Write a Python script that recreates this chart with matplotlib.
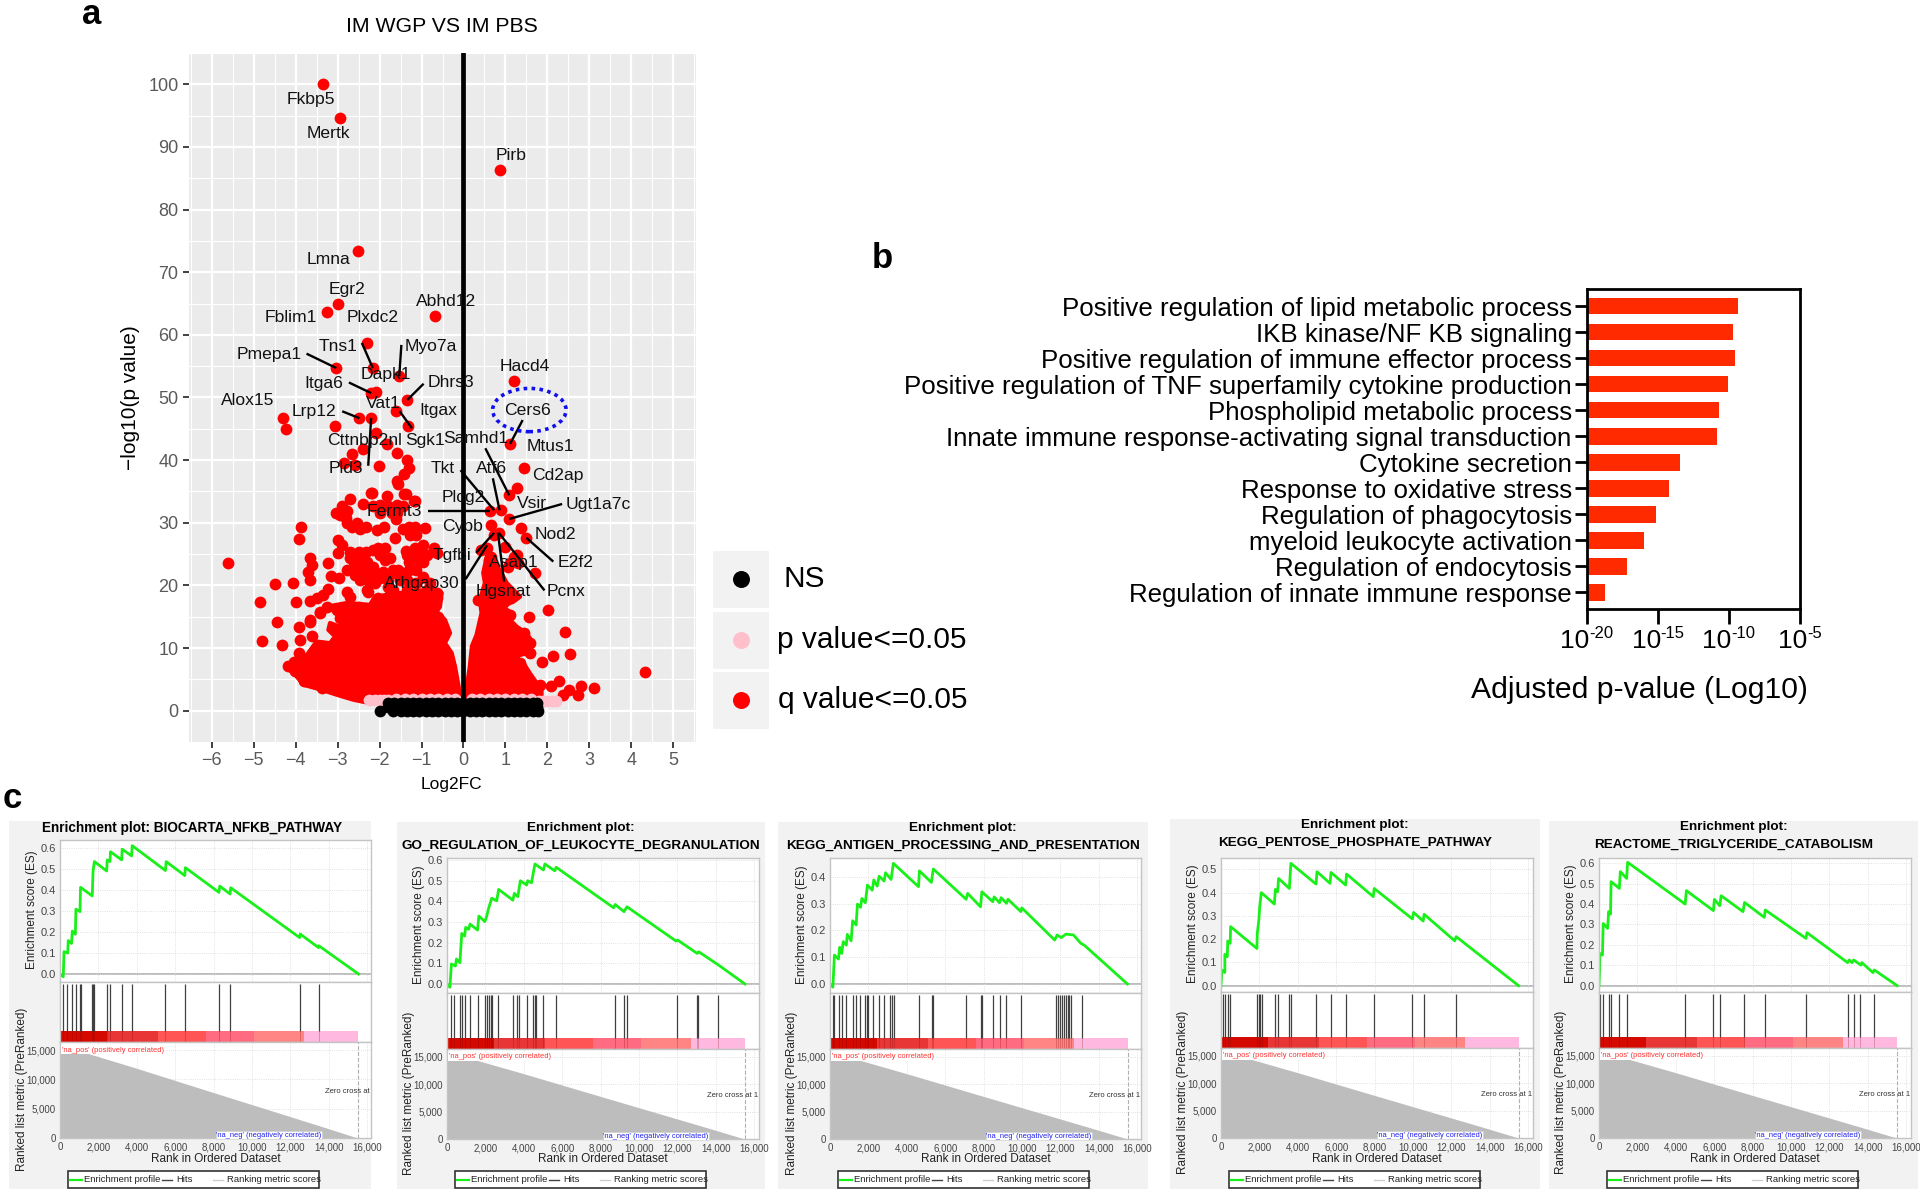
import matplotlib
matplotlib.use('Agg')
import matplotlib.pyplot as plt
from matplotlib.patches import Ellipse, Rectangle

plt.rcParams['font.family'] = ['Liberation Sans', 'DejaVu Sans']

W, H = 1920, 1192

# panel a, volcano: points
red_x = [-3.35, -2.95, 0.88, -2.51, -2.99, -3.26, -0.67, -2.31, -3.03, -2.16, -1.53, 1.21, -2.2, -2.09, -1.34,
         -5.61, -4.29, -4.23, -3.05, -2.48, -2.2, -2.09, -2.39, -2.66, -2.84, -2.59, -2.02, -1.82, -1.59, -1.61,
         -1.32, -1.35, -1.3, -1.41, -1.59, -1.57, -2.18, -1.38, -1.16,
         -2.2, -1.83, -1.41, -1.18, -2.7, -2.9, -3.04, -2.8, -2.77, -2.53, -2.46, -2.32, -2.39, -2.15, -2.0, -1.79,
         -1.59, -1.43, -1.6, -1.9, -2.07, -1.43, -1.15, -0.92, -1.64, -1.31, -3.87, -3.91, -2.98, -2.9, -3.0, -2.7,
         -2.5, -2.32, -2.03, -1.99, -1.75, -1.38, -1.15, -0.96, -0.7, -0.64, -3.65, -3.23, -3.62, -3.7, -3.65, -2.78,
         -3.15, -2.96, -4.49, -4.07, -2.58, -2.62, -2.3, -2.3, -2.11, -1.91, -1.67, -1.47, -1.2, -1.31, -1.04, -1.31,
         -1.12, -0.96, -2.46, -2.3, -2.11, -3.22, -2.78, -2.7, -2.27, -2.03, -1.79, -3.99, -3.65, -3.5, -3.34, -4.85,
         -3.26, -3.42, -3.02, -2.78, -2.5, -2.3, -2.07, -1.67, -1.43, -1.2, -0.88, -0.64, -0.64, -0.8, -1.12, -1.35,
         -1.27, -0.96, -0.72, -0.6, -3.65, -4.45, -1.59, -1.79, -1.35, -1.12, -1.35, -0.8,
         -3.91, -3.65, -3.42, -4.8, -4.33, -3.89, -3.62, -3.93, -4.17, -4.05, -4.01, -3.81, -3.38, -2.94,
         1.11, 1.45, 1.28, 1.09, 0.89, 0.64, 1.09, 0.66, 1.36, 0.84, 1.5, 0.73, 1.0, 0.41,
         1.7, 2.02, 1.56, 2.42, 2.14, 2.54, 1.88, 2.28, 2.08, 2.81, 3.11, 2.51, 2.38, 2.73, 1.43, 1.58, 1.58, 1.35,
         1.82, 0.35, 1.11, 1.27, 1.11, 0.95, 4.32, 0.55, 0.65, 0.6, 1.2, 1.3, 1.05, 0.7, 0.85]
red_y = [100, 94.6, 86.4, 73.4, 65, 63.7, 63, 58.7, 54.7, 54.7, 53.4, 52.7, 50.7, 50.9, 49.6,
         23.6, 46.8, 45, 45.5, 46.7, 46.7, 44.3, 41.8, 40.9, 39.5, 39.3, 39.1, 42.6, 41.1, 47.8,
         45.4, 40, 38.7, 37.8, 36.7, 36.2, 34.8, 34.6, 33.5,
         34.7, 34.2, 34.6, 33.55, 33.8, 32.7, 31.5, 30.7, 29.9, 29.9, 29, 29.3, 33, 32.6, 32.9, 32.6,
         32.9, 32.6, 30.6, 29.4, 28.8, 29, 29.4, 29.2, 27.6, 29.3, 29.3, 27.4, 27.3, 26.5, 25.25, 25.4,
         25.4, 25.4, 26, 24.9, 24.3, 25.5, 26, 26.5, 26, 25.1, 24.35, 23.65, 23.3, 22.2, 20.9, 22.5,
         21.5, 21.15, 20.25, 20.35, 24.35, 23.8, 23.8, 22.5, 21.95, 22.2, 22.5, 21.95, 25.15, 23.8, 23.8, 22.5,
         22.5, 23.8, 20.9, 19.3, 20.35, 19.4, 19, 18.2, 19, 18, 18.2, 17.4, 17.5, 18, 18.5, 17.4,
         16.6, 15.8, 16.1, 16.6, 16.6, 16.1, 15.8, 19.3, 18.2, 18.5, 19.3, 18.8, 18, 17.4, 17.2, 16.9,
         15.8, 16.1, 15.6, 15, 14.5, 14.2, 21.95, 20.9, 20.9, 20.35, 19.3, 19.3,
         13.3, 14.2, 15.6, 11.2, 10.5, 11.3, 11.95, 9.2, 7.06, 7.85, 6.26, 4.66, 3.6, 14.8,
         42.6, 38.7, 35.5, 34.4, 32, 31.8, 30.6, 29.7, 29.1, 28.4, 27.6, 28.1, 26.1, 25.7,
         22, 16.1, 15, 12.5, 8.7, 9.1, 7.8, 4.8, 4, 3.9, 3.55, 3.3, 2.5, 2.5, 12.4, 10.8, 9.2, 7.6,
         4.1, 17.7, 15.3, 24.9, 23.6, 17.2, 6.2, 26, 24.5, 24, 24.5, 23.5, 23, 22.5, 21]

# second pass over the crowded part of the left arm
red2_x = [-2.7, -2.46, -1.35, -1.04, -0.88, -2.15, -1.99, -1.79, -1.51, -1.71, -1.55, -2.54, -2.58, -2.39, -2.27, -0.96,
          -0.8, -1.71, -2.0, -2.78, -2.66, -2.94, -1.59, -1.27, -1.12, -1.12, -1.31, -2.15, -1.87, -1.87, -2.46]
red2_y = [24.35, 24.6, 24.9, 25.15, 24.9, 23, 21.2, 19.8, 20.9, 22, 22.5, 22.5, 21.7, 21.7, 20.9, 21.4,
          20.35, 31.5, 31.5, 31.8, 29.4, 31.3, 31.5, 28.1, 28.1, 24.9, 25.15, 25.7, 26, 24.1, 23.8]

# outline of the solid red masses
mass_left_x = [-0.08, -2.23, -2.62, -3.02, -3.38, -3.81, -4.01, -4.25, -3.97, -3.73, -3.5, -3.18, -3.06, -3.22, -3.18,
               -2.94, -2.86, -3.26, -2.78, -2.23, -2.11, -1.51, -0.88, -0.52, -0.56, -0.64, -0.44, -0.32, -0.44, -0.28, -0.2]
mass_left_y = [2.54, 1.2, 1.74, 2.54, 3.33, 4.13, 5.73, 7.06, 8.39, 8.92, 11.05, 10.78, 11.85, 12.9, 14,
               13.4, 15, 16.6, 17.2, 16.9, 18.2, 18.8, 19.3, 18.8, 16.6, 15.8, 14.5, 12.4, 10.8, 9.2, 7]
mass_right_x = [0, 1.86, 1.86, 1.58, 1.43, 1.23, 1.54, 1.66, 1.5, 1.27, 1.11, 1.11, 0.91, 1.19, 1.35, 1.03, 0.95, 0.59,
                0.47, 0.51, 0.39, 0.43, 0.31, 0.2, 0.15, 0.08]
mass_right_y = [2.27, 2.27, 3.3, 6, 7.6, 8.7, 9.2, 10.8, 12.4, 13.4, 14.5, 15.8, 16.6, 17.4, 18.2, 20.4, 21.4, 25.7,
                22, 20.4, 17.7, 15.6, 12.1, 10.3, 7, 3.9]

pink_x = [-2.24, -2.1, -2.0, -1.9, -1.8, -1.6, -1.4, -1.2, -1.0, -0.8, -0.6, -0.4, -0.2, 0.2, 0.4, 0.6, 0.8, 1.0, 1.2,
          1.4, 1.6, 1.8, 1.9, 2.0, 2.1, 2.2]
pink_y = [1.7, 1.7, 1.7, 1.7, 1.7, 1.9, 1.9, 1.9, 1.9, 1.9, 1.9, 1.9, 1.9, 1.9, 1.9, 1.9, 1.9, 1.9, 1.9,
          1.9, 1.9, 1.6, 1.6, 1.6, 1.6, 1.5]

black_top_x = [-1.79, -1.65, -1.5, -1.35, -1.2, -1.05, -0.9, -0.75, -0.6, -0.45, -0.3, -0.15, 0.0, 0.15, 0.3, 0.45,
               0.6, 0.75, 0.9, 1.05, 1.2, 1.35, 1.5, 1.65, 1.76]
black_top_y = [1.3] * len(black_top_x)
black_mid_y = [0.65] * len(black_top_x)
black_low_x = [-1.99, -1.67, -1.5, -1.35, -1.2, -1.05, -0.9, -0.75, -0.6, -0.45, -0.3, -0.15, 0.0, 0.15, 0.3, 0.45,
               0.6, 0.75, 0.9, 1.05, 1.2, 1.35, 1.5, 1.65, 1.78]
black_low_y = [0] * len(black_low_x)

gene_names = ['Fkbp5', 'Mertk', 'Pirb', 'Lmna', 'Egr2', 'Fblim1', 'Plxdc2', 'Abhd12', 'Tns1', 'Myo7a', 'Pmepa1',
              'Hacd4', 'Dapk1', 'Itga6', 'Dhrs3', 'Alox15', 'Vat1', 'Lrp12', 'Itgax', 'Cers6', 'Cttnbp2nl', 'Sgk1',
              'Samhd1', 'Mtus1', 'Pld3', 'Tkt', 'Atf6', 'Cd2ap', 'Plcg2', 'Vsir', 'Ugt1a7c', 'Fermt3', 'Cybb', 'Nod2',
              'E2f2', 'Tgfbi', 'Asap1', 'Arhgap30', 'Hgsnat', 'Pcnx']
gene_x = [-3.63, -3.22, 1.14, -3.21, -2.78, -4.11, -2.16, -0.41, -3.0, -0.79, -4.64, 1.45, -1.86, -3.32, -0.31, -5.14,
          -1.91, -3.55, -0.59, 1.52, -2.36, -0.92, 0.29, 2.06, -2.8, -0.5, 0.68, 2.25, 0.0, 1.64, 3.2, -1.64, -0.02,
          2.18, 2.68, -0.27, 1.21, -1.0, 0.95, 2.45]
gene_y = [97.6, 92.2, 88.7, 72, 67.3, 62.7, 62.8, 65.3, 58.2, 58.1, 56.8, 54.9, 53.6, 52.2, 52.4, 49.6, 49, 47.7, 47.9,
          48, 43.2, 43.1, 43.4, 42.2, 38.7, 38.6, 38.6, 37.5, 34, 33, 32.9, 31.8, 29.4, 28.2, 23.7, 24.8, 23.7, 20.3,
          19, 19]

# repel lines, from label to point
seg_x0 = [-3.74, -2.42, -1.48, -2.73, -0.95, -2.89, -1.52, -2.27, 1.41, 0.52, -0.07, 0.7, -0.84, 2.35, 2.14, 1.93, 0.97, 0.3, 0.05]
seg_y0 = [57, 58.7, 58.4, 52.4, 52.2, 47.8, 47.8, 39.1, 46.4, 41.9, 38.4, 37.1, 31.8, 33, 23.8, 19.2, 20.6, 25.2, 21]
seg_x1 = [-3.03, -2.16, -1.53, -2.2, -1.34, -2.48, -1.23, -2.2, 1.11, 1.09, 0.73, 0.86, 0.64, 1.09, 1.5, 0.84, 0.82, 0.73, 0.56]
seg_y1 = [54.7, 54.7, 53.4, 50.7, 49.6, 46.7, 45.1, 46.7, 42.6, 34.4, 32, 32, 31.8, 30.6, 27.6, 28.4, 28.4, 28.4, 26.4]

# panel b
go_terms = ['Positive regulation of lipid metabolic process', 'IKB kinase/NF KB signaling',
            'Positive regulation of immune effector process', 'Positive regulation of TNF superfamily cytokine production',
            'Phospholipid metabolic process', 'Innate immune response-activating signal transduction',
            'Cytokine secretion', 'Response to oxidative stress', 'Regulation of phagocytosis',
            'myeloid leukocyte activation', 'Regulation of endocytosis', 'Regulation of innate immune response']
go_log10p = [-9.4, -9.7, -9.57, -10.06, -10.73, -10.82, -13.46, -14.2, -15.16, -15.97, -17.18, -18.7]
go_ticks = [-20, -15, -10, -5]
go_tick_exp = ['-20', '-15', '-10', '-5']

# panel c, rank in thousands and enrichment score
es1_rank = [0, .17, .21, .4, .43, .6, .64, .8, .83, 1.04, 1.07, 1.68, 1.72, 1.79, 2.43, 2.46, 2.6, 2.63, 3.21, 3.24,
            3.73, 3.76, 5.49, 5.53, 6.5, 6.53, 8.28, 8.32, 8.86, 8.89, 12.48, 12.51, 13.47, 13.48, 15.55]
es1_val = [0, -.013, .107, .1, .16, .146, .205, .19, .31, .298, .414, .373, .489, .537, .492, .545, .537, .584, .545, .596,
           .564, .613, .494, .537, .47, .508, .39, .42, .382, .412, .174, .191, .126, .135, 0]
hits1 = [.17, .38, .61, .81, 1.04, 1.09, 1.66, 1.73, 1.78, 2.43, 2.63, 3.22, 3.73, 5.49, 6.5, 8.28, 8.87, 12.48, 13.47]

es2_rank = [0, .15, .23, .44, .49, .67, .77, .92, .97, 1.13, 1.2, 1.59, 1.66, 1.97, 2.07, 2.15, 2.33, 2.59, 2.69, 3.43,
            3.51, 3.69, 3.82, 4.15, 4.2, 4.4, 4.58, 5.02, 5.1, 5.61, 5.69, 8.68, 8.76, 9.22, 9.37, 11.93, 12.01, 13.03,
            13.11, 14.14, 15.52]
es2_val = [0, -.016, .097, .087, .121, .103, .245, .232, .274, .265, .29, .261, .329, .302, .329, .361, .415, .403, .458, .406,
           .439, .423, .5, .479, .5, .49, .581, .552, .581, .548, .565, .369, .385, .35, .374, .208, .213, .148,
           .156, .092, 0]
hits2 = [.2, .38, .69, .77, .95, 1.18, 1.64, 2, 2.1, 2.2, 2.28, 2.36, 2.64, 3.43, 3.64, 3.76, 4.17, 4.48, 4.58, 4.64,
         5.02, 5.66, 8.73, 9.22, 9.35, 11.98, 13.01, 13.09, 14.14]

es3_rank = [0, .15, .23, .44, .51, .61, .69, .85, .9, 1.1, 1.18, 1.36, 1.43, 1.59, 1.66, 1.84, 1.95, 2.2, 2.28, 2.46, 2.56,
            2.82, 2.89, 3.18, 3.3, 4.61, 4.66, 5.28, 5.38, 7.09, 7.17, 7.84, 7.91, 8.48, 8.55, 8.83, 8.91, 9.19, 9.27,
            9.94, 9.99, 11.7, 11.83, 12.04, 12.29, 12.68, 13.06, 13.24, 15.49]
es3_val = [0, -.012, .108, .093, .137, .114, .158, .145, .185, .161, .236, .22, .298, .286, .319, .303, .369, .35, .388, .365, .402,
           .384, .415, .39, .45, .363, .422, .379, .429, .316, .338, .288, .344, .307, .325, .303, .322, .301, .316,
           .27, .284, .164, .183, .173, .186, .183, .152, .145, 0]
hits3 = [.15, .23, .46, .64, .85, 1.2, 1.36, 1.56, 1.82, 1.92, 1.97, 2.25, 2.56, 2.82, 3.15, 3.25, 3.33, 4.61, 5.33, 5.38,
         7.09, 7.84, 7.91, 8.48, 8.87, 9.19, 9.94, 11.75, 11.86, 11.96, 12.06, 12.17, 12.27, 12.37, 12.47, 12.57, 13.11]

es4_rank = [0, .05, .2, .2, .33, .35, .48, .5, 1.87, 1.89, 1.97, 2.02, 2.1, 2.78, 2.83, 2.95, 3, 3.56, 3.64, 4.95, 5, 5.68,
            5.73, 6.49, 6.54, 7.93, 7.98, 9.97, 10.03, 10.53, 10.58, 12.17, 12.25, 15.5]
es4_val = [0, .067, .057, .135, .125, .192, .182, .254, .16, .225, .282, .344, .4, .351, .414, .404, .461, .418, .526, .437, .49, .44,
           .487, .433, .48, .383, .418, .287, .315, .278, .307, .193, .211, 0]
hits4 = [.08, .2, .35, .48, 1.87, 1.97, 2.05, 2.12, 2.8, 2.98, 3.56, 3.64, 4.97, 5.71, 6.52, 7.95, 9.97, 10.56, 12.22]

es5_rank = [0, .03, .05, .18, .2, .22, .45, .5, .6, .63, 1.06, 1.11, 1.44, 1.49, 4.49, 4.55, 5.96, 6.01, 6.29, 6.36, 7.5, 7.58,
            8.61, 8.66, 10.78, 10.83, 12.95, 13.03, 13.18, 13.26, 13.64, 13.69, 14.27, 14.34, 15.53]
es5_val = [0, .077, .158, .15, .232, .305, .281, .363, .351, .51, .477, .559, .526, .605, .4, .466, .368, .423, .392, .441, .363, .408,
           .335, .371, .232, .26, .113, .126, .113, .126, .101, .113, .064, .077, 0]
hits5 = [.05, .2, .5, .6, 1.06, 1.44, 4.49, 5.96, 6.31, 7.53, 8.64, 10.78, 12.98, 13.26, 13.61, 14.32]

band_edges = [0, 2.45, 5.1, 7.6, 10.1, 12.73, 15.5]
band_colors = ['#d40a00', '#e83535', '#ff5555', '#ff6b80', '#ff8585', '#ffb8e0']
metric_rank = [0, 1.2, 4, 7.28, 10, 13.5, 15.5]
metric_val = [14700, 14700, 11900, 8500, 5700, 2100, 0]


def px_axes(fig, left, top, right, bottom, **kw):
    return fig.add_axes([left / W, 1 - bottom / H, (right - left) / W, (bottom - top) / H], **kw)


fig = plt.figure(figsize=(W / 100, H / 100), dpi=100, facecolor='white')

page = fig.add_axes([0, 0, 1, 1], zorder=-1)
page.set_xlim(0, W)
page.set_ylim(H, 0)
page.axis('off')

page.text(92, 14, 'a', fontsize=25, fontweight='bold', ha='center', va='center')
page.text(882, 258, 'b', fontsize=25, fontweight='bold', ha='center', va='center')
page.text(12, 798, 'c', fontsize=25, fontweight='bold', ha='center', va='center')

# --- a ---
ax = px_axes(fig, 189, 53, 696, 742, facecolor='#ebebeb')
ax.set_xlim(-6.54, 5.54)
ax.set_ylim(-4.9, 105)
ax.set_xticks(range(-6, 6))
ax.set_xticks([i + 0.5 for i in range(-7, 6)], minor=True)
ax.set_yticks(range(0, 101, 10))
ax.set_yticks(range(-5, 106, 10), minor=True)
ax.grid(which='major', color='white', lw=1.6)
ax.grid(which='minor', color='white', lw=0.8)
ax.set_axisbelow(True)
ax.tick_params(which='minor', length=0)
ax.tick_params(which='major', length=4, width=1.3, color='#333333', labelcolor='#5a5a5a', labelsize=13)
ax.set_xticklabels([str(i).replace('-', '\u2212') for i in range(-6, 6)])
for s in ax.spines.values():
    s.set_visible(False)

ax.fill(mass_left_x, mass_left_y, color='red', lw=3, joinstyle='round', zorder=2)
ax.fill(mass_right_x, mass_right_y, color='red', lw=3, joinstyle='round', zorder=2)
ax.scatter(red_x, red_y, s=72, color='red', lw=0, zorder=3)
ax.scatter(red2_x, red2_y, s=72, color='red', lw=0, zorder=3)
ax.scatter(pink_x, pink_y, s=72, color='#ffc0cb', lw=0, zorder=4)
ax.scatter(black_top_x, black_top_y, s=72, color='black', lw=0, zorder=5)
ax.scatter(black_top_x, black_mid_y, s=72, color='black', lw=0, zorder=5)
ax.scatter(black_low_x, black_low_y, s=72, color='black', lw=0, zorder=5)
ax.axvline(0, color='black', lw=3.4, zorder=6)

for a, b, c, d in zip(seg_x0, seg_y0, seg_x1, seg_y1):
    ax.plot([a, c], [b, d], color='black', lw=1.7, zorder=7, solid_capstyle='butt')
for name, x, y in zip(gene_names, gene_x, gene_y):
    ax.text(x, y, name, fontsize=12.6, ha='center', va='center', color='#111111', zorder=8)
ax.add_patch(Ellipse((1.57, 48), 1.75, 6.9, fill=False, edgecolor='#1010ee', lw=2.6, ls=(0, (1, 1.2)), zorder=8))

page.text(442, 27, 'IM WGP VS IM PBS', fontsize=15.3, ha='center', va='center')
page.text(451, 784, 'Log2FC', fontsize=12.5, ha='center', va='center')
page.text(130, 398, '\u2212log10(p value)', fontsize=15, rotation=90, ha='center', va='center')

# legend of a
legend_names = ['NS', 'p value<=0.05', 'q value<=0.05']
legend_colors = ['black', '#ffc0cb', 'red']
legend_text_x = [783, 777, 778]
for i, top in enumerate([551, 612, 672]):
    page.add_patch(Rectangle((713, top), 56, 57, color='#f2f2f2', lw=0))
    page.scatter([741], [top + 28], s=150, color=legend_colors[i], lw=0)
    page.text(legend_text_x[i], top + 28, legend_names[i], fontsize=21.5, ha='left', va='center')

# --- b ---
ax = px_axes(fig, 1587, 289, 1800, 609)
ax.barh(range(len(go_terms)), [v + 20 for v in go_log10p], left=-20, height=0.65, color='#ff2a00')
ax.set_xlim(-20, -5)
ax.set_ylim(11.65, -0.654)
ax.set_yticks(range(len(go_terms)))
ax.set_yticklabels(go_terms)
ax.set_xticks(go_ticks)
ax.set_xticklabels([])
ax.tick_params(axis='y', length=9, width=2, labelsize=18.6, pad=2)
ax.tick_params(axis='x', length=11, width=2)
for s in ax.spines.values():
    s.set_linewidth(2)
for t, e in zip(go_ticks, go_tick_exp):
    tx = 1587 + (t + 20) * 14.2
    ew = 24 if len(e) == 3 else 15
    page.text(tx - (29 + ew) / 2, 641, '10', fontsize=19, ha='left', va='center')
    page.text(tx - (29 + ew) / 2 + 29, 634, e, fontsize=12, ha='left', va='center')
page.text(1639, 690, 'Adjusted p-value (Log10)', fontsize=21.7, ha='center', va='center')

# --- c ---
panels = [
    dict(title=['Enrichment plot: BIOCARTA_NFKB_PATHWAY'], bg=(9, 821, 371, 1189), l=60, r=371, top=840, es=982,
         band=(1031, 1042), bot=1138, ylim=(-.038, .64), yt=[0, .1, .2, .3, .4, .5, .6],
         rank=es1_rank, val=es1_val, hits=hits1, zero='Zero cross at'),
    dict(title=['Enrichment plot:', 'GO_REGULATION_OF_LEUKOCYTE_DEGRANULATION'], bg=(397, 822, 765, 1189), l=447, r=759,
         top=858, es=993, band=(1038, 1049), bot=1139, ylim=(-.0435, .61), yt=[0, .1, .2, .3, .4, .5, .6],
         rank=es2_rank, val=es2_val, hits=hits2, zero='Zero cross at 1'),
    dict(title=['Enrichment plot:', 'KEGG_ANTIGEN_PROCESSING_AND_PRESENTATION'], bg=(778, 822, 1148, 1189), l=830, r=1141,
         top=858, es=993, band=(1038, 1049), bot=1139, ylim=(-.0336, .47), yt=[0, .1, .2, .3, .4],
         rank=es3_rank, val=es3_val, hits=hits3, zero='Zero cross at 1'),
    dict(title=['Enrichment plot:', 'KEGG_PENTOSE_PHOSPHATE_PATHWAY'], bg=(1170, 819, 1540, 1189), l=1221, r=1533,
         top=858, es=992, band=(1037, 1048), bot=1138, ylim=(-.027, .549), yt=[0, .1, .2, .3, .4, .5],
         rank=es4_rank, val=es4_val, hits=hits4, zero='Zero cross at 1'),
    dict(title=['Enrichment plot:', 'REACTOME_TRIGLYCERIDE_CATABOLISM'], bg=(1549, 821, 1918, 1189), l=1599, r=1911,
         top=858, es=992, band=(1037, 1048), bot=1138, ylim=(-.031, .626), yt=[0, .1, .2, .3, .4, .5, .6],
         rank=es5_rank, val=es5_val, hits=hits5, zero='Zero cross at 1'),
]

for p in panels:
    l, r, top, es_bot, bot = p['l'], p['r'], p['top'], p['es'], p['bot']
    b0, b1 = p['band']
    x0, y0, x1, y1 = p['bg']
    xmax = (r - l) / 19.2
    page.add_patch(Rectangle((x0, y0), x1 - x0, y1 - y0, color='#f2f2f2', lw=0))

    if len(p['title']) == 1:
        page.text((x0 + x1) / 2 + 2, y0 + 7, p['title'][0], fontsize=9.8, fontweight='bold', ha='center', va='center')
    else:
        page.text((x0 + x1) / 2, y0 + 6, p['title'][0], fontsize=9.7, fontweight='bold', ha='center', va='center')
        page.text((x0 + x1) / 2, y0 + 24, p['title'][1], fontsize=9.7, fontweight='bold', ha='center', va='center')

    # enrichment curve
    ax1 = px_axes(fig, l, top, r, es_bot)
    ax1.plot(p['rank'], p['val'], color='#19f019', lw=2)
    ax1.axhline(0, color='#b0b0b0', lw=1.2, zorder=1)
    ax1.set_xlim(0, xmax)
    ax1.set_ylim(*p['ylim'])
    ax1.set_yticks(p['yt'])
    ax1.set_yticklabels(['%.1f' % v for v in p['yt']])
    ax1.set_xticks(range(0, 17, 2))
    ax1.tick_params(axis='x', length=0, labelbottom=False)
    ax1.tick_params(axis='y', length=0, labelsize=8, labelcolor='#444444', pad=3)
    ax1.grid(color='#d8d8d8', lw=0.6, ls=':')

    # hits and ranked colour band
    ax2 = px_axes(fig, l, es_bot, r, b1)
    ax2.set_xlim(0, xmax)
    ax2.set_ylim(0, 1)
    ax2.set_xticks([])
    ax2.set_yticks([])
    band_h = (b1 - b0) / (b1 - es_bot)
    for e0, e1, c in zip(band_edges[:-1], band_edges[1:], band_colors):
        ax2.barh(band_h / 2, e1 - e0, left=e0, height=band_h, color=c, lw=0)
    ax2.vlines(p['hits'], band_h, 0.97, color='#404040', lw=0.9)
    ax2.vlines(p['hits'], 0, band_h, color='#800000', lw=0.5, alpha=0.35)

    # ranked list metric
    ax3 = px_axes(fig, l, b1, r, bot)
    ax3.fill_between(metric_rank, metric_val, color='#bdbdbd', lw=0)
    ax3.axvline(15.5, color='#b0b0b0', lw=0.8, ls='--')
    ax3.set_xlim(0, xmax)
    ax3.set_ylim(0, 16400)
    ax3.set_xticks(range(0, 17, 2))
    ax3.set_xticklabels(['{:,}'.format(v * 1000) for v in range(0, 17, 2)])
    ax3.set_yticks([0, 5000, 10000, 15000])
    ax3.set_yticklabels(['0', '5,000', '10,000', '15,000'])
    ax3.tick_params(length=0, labelsize=7, labelcolor='#444444', pad=3)
    ax3.grid(color='#d8d8d8', lw=0.6, ls=':')
    ax3.set_axisbelow(True)
    ax3.text(0.1, 15000, "'na_pos' (positively correlated)", fontsize=5.4, color='#ff3030', va='center', ha='left',
             bbox=dict(fc='white', ec='none', pad=0.5))
    ax3.text(8.15, 500, "'na_neg' (negatively correlated)", fontsize=5.4, color='#2020ee', va='center', ha='left',
             bbox=dict(fc='white', ec='#cccccc', lw=0.4, pad=0.5))
    ax3.text(xmax - 0.05, 8000, p['zero'], fontsize=5.5, color='#333333', va='center', ha='right')

    for a in (ax1, ax2, ax3):
        for s in a.spines.values():
            s.set_color('#c4c4c4')
            s.set_linewidth(1)

    page.text(l - 28, (top + es_bot) / 2 - 1, 'Enrichment score (ES)', fontsize=8.5, rotation=90, ha='center',
              va='center', color='#222222')
    page.text(l - 38, (b1 + bot) / 2 - 1, 'Ranked list metric (PreRanked)', fontsize=8.5, rotation=90, ha='center',
              va='center', color='#222222')
    page.text((l + r) / 2, 1159, 'Rank in Ordered Dataset', fontsize=8.5, ha='center', va='center', color='#222222')

    # legend strip
    lx = l + 8
    page.add_patch(Rectangle((lx, 1171), 251, 17, fc='white', ec='#333333', lw=1.2))
    page.plot([lx + 2, lx + 14], [1179.5, 1179.5], color='#19f019', lw=1.6)
    page.text(lx + 16, 1179.5, 'Enrichment profile', fontsize=6.8, va='center', color='#222222')
    page.plot([lx + 94, lx + 104], [1179.5, 1179.5], color='#444444', lw=1)
    page.text(lx + 108, 1179.5, 'Hits', fontsize=6.8, va='center', color='#222222')
    page.plot([lx + 145, lx + 155], [1179.5, 1179.5], color='#cccccc', lw=1)
    page.text(lx + 159, 1179.5, 'Ranking metric scores', fontsize=6.8, va='center', color='#222222')

page.set_xlim(0, W)
page.set_ylim(H, 0)

fig.savefig('out.png', dpi=100)
